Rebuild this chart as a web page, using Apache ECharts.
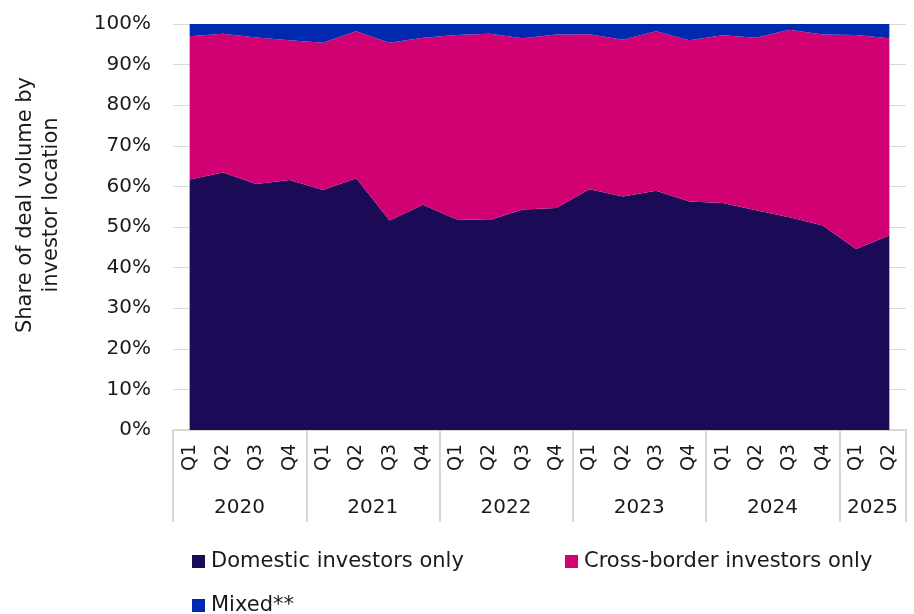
<!DOCTYPE html>
<html>
<head>
<meta charset="utf-8">
<script src="https://cdn.jsdelivr.net/npm/echarts@6/dist/echarts.min.js"></script>
<style>
  html, body { margin: 0; padding: 0; background: #ffffff; }
  #chart { width: 914px; height: 614px; }
</style>
</head>
<body>
<div id="chart"></div>
<script>
// ---- Data ----
const years = ['2020', '2021', '2022', '2023', '2024', '2025'];
const quartersPerYear = [4, 4, 4, 4, 4, 2];
const quarterNames = ['Q1', 'Q2', 'Q3', 'Q4'];

const domestic = [61.7, 63.4, 60.6, 61.6, 59.1, 62.0, 51.6, 55.5, 51.9, 51.7, 54.3,
                  54.7, 59.3, 57.5, 58.9, 56.3, 55.9, 54.1, 52.4, 50.4, 44.6, 47.9];
const crossBorder = [35.3, 34.2, 36.1, 34.4, 36.3, 36.2, 43.8, 41.1, 45.4, 45.9, 42.2,
                     42.7, 38.2, 38.6, 39.3, 39.7, 41.3, 42.5, 46.2, 47.0, 52.7, 48.6];
const mixed = [3.0, 2.4, 3.3, 4.0, 4.6, 1.8, 4.6, 3.4, 2.7, 2.4, 3.5,
               2.6, 2.5, 3.9, 1.8, 4.0, 2.8, 3.4, 1.4, 2.6, 2.7, 3.5];

const seriesNames = ['Domestic investors only', 'Cross-border investors only', 'Mixed**'];
const yTickLabels = ['0%', '10%', '20%', '30%', '40%', '50%', '60%', '70%', '80%', '90%', '100%'];

// ---- Build category axes ----
const categories = [];
const yearLabelIndex = {};
years.forEach((y, yi) => {
  const start = categories.length;
  for (let q = 0; q < quartersPerYear[yi]; q++) {
    categories.push({ year: y, quarter: quarterNames[q] });
  }
  yearLabelIndex[start + quartersPerYear[yi] / 2 - 1] = y;
});
const quarterCats = categories.map(c => c.year + ' ' + c.quarter);

const FONT = 'DejaVu Sans';
const TXT = '#1a1a1a';
const SEP = '#dcd7d0';

const chart = echarts.init(document.getElementById('chart'), null, { renderer: 'canvas' });

const colors = ['#1b0a56', '#d10073', '#0029b0'];
const dataSets = [domestic, crossBorder, mixed];

const legendText = { fontFamily: FONT, fontSize: 21, color: TXT, padding: [0, 0, 0, 1] };

chart.setOption({
  animation: false,
  backgroundColor: '#ffffff',
  textStyle: { fontFamily: FONT, color: TXT },
  grid: { left: 173, right: 8, top: 24, bottom: 184, containLabel: false },
  legend: [
    {
      data: [seriesNames[0]], left: 187, top: 546, icon: 'rect',
      itemWidth: 13, itemHeight: 13, itemGap: 0, textStyle: legendText
    },
    {
      data: [seriesNames[1]], left: 560, top: 546, icon: 'rect',
      itemWidth: 13, itemHeight: 13, itemGap: 0, textStyle: legendText
    },
    {
      data: [seriesNames[2]], left: 187, top: 590, icon: 'rect',
      itemWidth: 13, itemHeight: 13, itemGap: 0, textStyle: legendText
    }
  ],
  xAxis: [
    {
      type: 'category',
      data: quarterCats,
      boundaryGap: true,
      position: 'bottom',
      axisLine: { show: true, lineStyle: { color: SEP, width: 2 } },
      axisTick: { show: false },
      axisLabel: {
        rotate: 90, margin: 14, interval: 0,
        fontFamily: FONT, fontSize: 19, color: TXT,
        formatter: (v, i) => categories[i].quarter
      },
      splitLine: { show: false }
    },
    {
      type: 'category',
      data: quarterCats,
      boundaryGap: true,
      position: 'bottom',
      offset: 0,
      axisLine: { show: false },
      axisTick: {
        show: true, length: 92, inside: false,
        interval: (index) => {
          let s = 0;
          for (let yi = 0; yi < years.length; yi++) {
            if (index === s) return true;
            s += quartersPerYear[yi];
          }
          return false;
        },
        lineStyle: { color: SEP, width: 2 }
      },
      axisLabel: {
        margin: 68, fontFamily: FONT, fontSize: 20, color: TXT,
        padding: [0, 0, 0, 33],
        interval: (index) => yearLabelIndex[index] !== undefined,
        formatter: (v, i) => yearLabelIndex[i] || ''
      },
      splitLine: { show: false }
    }
  ],
  yAxis: {
    type: 'value',
    min: 0, max: 100, interval: 10,
    name: 'Share of deal volume by\ninvestor location',
    nameLocation: 'middle',
    nameGap: 108,
    nameTextStyle: { fontFamily: FONT, fontSize: 21, color: TXT, lineHeight: 26, padding: [0, 0, 0, 44] },
    axisLine: { show: false },
    axisTick: { show: false },
    axisLabel: {
      margin: 22, fontFamily: FONT, fontSize: 20, color: TXT,
      formatter: (v) => yTickLabels[Math.round(v / 10)]
    },
    splitLine: { show: true, lineStyle: { color: '#d9d9d9', width: 1 } }
  },
  series: dataSets.map((d, i) => ({
    name: seriesNames[i],
    type: 'line',
    stack: 'share',
    data: d,
    symbol: 'none',
    smooth: false,
    lineStyle: { width: 0, color: colors[i] },
    itemStyle: { color: colors[i] },
    areaStyle: { color: colors[i], opacity: 1 },
    emphasis: { disabled: true }
  }))
});
</script>
</body>
</html>
